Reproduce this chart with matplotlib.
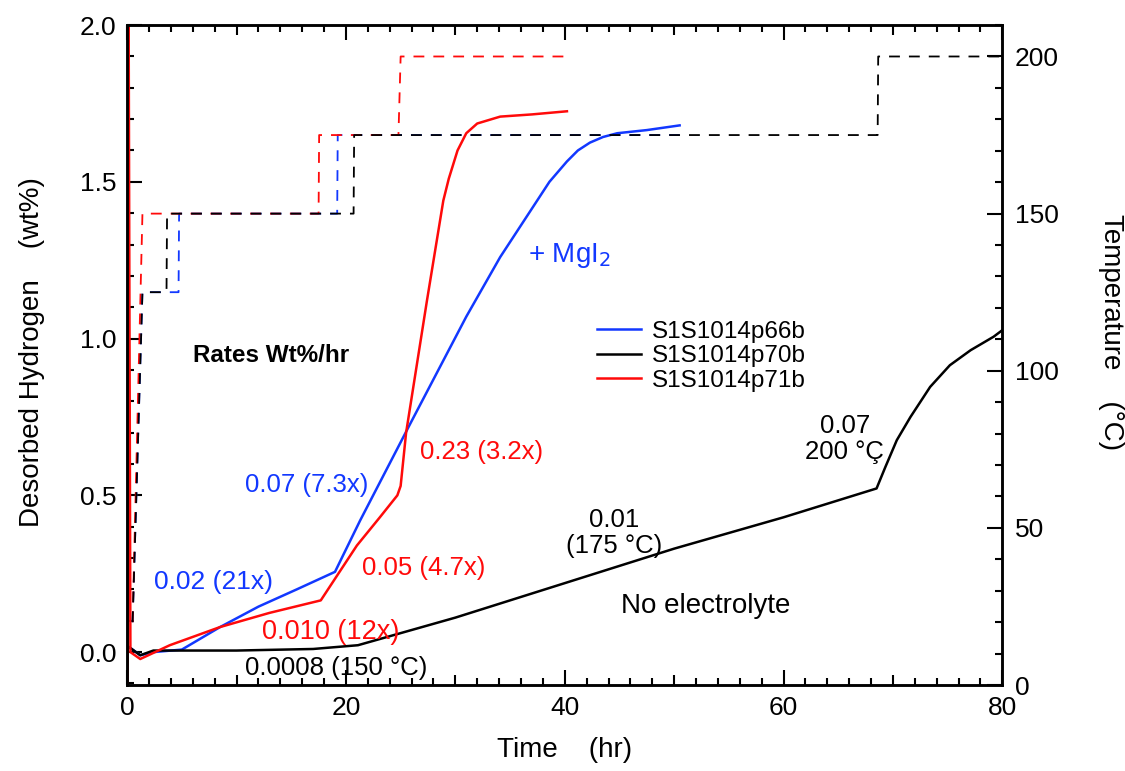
import numpy as np
import matplotlib.pyplot as plt
from matplotlib.ticker import MultipleLocator, FuncFormatter

plt.rcParams['font.family'] = ['Liberation Sans', 'DejaVu Sans']

# desorbed hydrogen (wt%)
t_p66b = [0.0, 0.3, 1.2, 2.4, 5.0, 8.5, 12.0, 15.5, 19.0, 21.3, 25.9, 31.0, 34.1,
          37.1, 38.6, 40.2, 41.2, 42.3, 43.5, 44.8, 47.5, 50.5]
h_p66b = [0.02, 0.013, -0.01, 0.0, 0.008, 0.08, 0.145, 0.2, 0.256, 0.42, 0.73, 1.07,
          1.26, 1.42, 1.50, 1.565, 1.60, 1.625, 1.643, 1.655, 1.665, 1.68]

t_p70b = [0.0, 0.3, 1.2, 2.4, 10.0, 17.0, 21.1, 30.0, 40.0, 50.0, 60.0, 68.5, 69.3,
          70.35, 71.6, 73.4, 75.2, 77.1, 79.2, 80.0]
h_p70b = [0.02, 0.013, -0.01, 0.005, 0.005, 0.01, 0.022, 0.11, 0.22, 0.33, 0.43, 0.522,
          0.59, 0.676, 0.75, 0.846, 0.915, 0.963, 1.006, 1.027]

t_p71b = [0.05, 0.1, 0.3, 1.2, 3.9, 8.5, 13.0, 17.7, 21.0, 23.1, 24.7, 25.0, 25.5,
          27.4, 28.9, 29.4, 30.2, 31.0, 32.0, 34.1, 37.0, 40.2]
h_p71b = [-0.2, 2.5, 0.0, -0.022, 0.022, 0.08, 0.125, 0.165, 0.34, 0.43, 0.50, 0.53,
          0.70, 1.12, 1.44, 1.51, 1.60, 1.655, 1.686, 1.708, 1.715, 1.725]

# temperature programs (°C)
tT_p66b = [0.5, 1.4, 4.7, 4.75, 19.2, 19.25, 50.5]
T_p66b = [20, 125, 125, 150, 150, 175, 175]
tT_p70b = [0.5, 1.4, 3.6, 3.65, 20.7, 20.75, 68.6, 68.65, 80.0]
T_p70b = [20, 125, 125, 150, 150, 175, 175, 200, 200]
tT_p71b = [0.5, 1.4, 17.5, 17.55, 24.8, 25.0, 40.2]
T_p71b = [20, 150, 150, 175, 175, 200, 200]

blue = '#1238ff'
red = '#ff0a0a'

fig = plt.figure(figsize=(11.25, 7.71), dpi=100)
ax = fig.add_axes([0.113, 0.1115, 0.778, 0.856])
ax2 = ax.twinx()

ax.plot(t_p66b, h_p66b, color=blue, lw=1.8, label='S1S1014p66b')
ax.plot(t_p70b, h_p70b, color='black', lw=1.8, label='S1S1014p70b')
ax.plot(t_p71b, h_p71b, color=red, lw=1.8, label='S1S1014p71b')

ax2.plot(tT_p66b, T_p66b, color=blue, lw=1.3, ls=(0, (6, 5)))
ax2.plot(tT_p71b, T_p71b, color=red, lw=1.3, ls=(0, (6, 5)))
ax2.plot(tT_p70b, T_p70b, color='black', lw=1.3, ls=(0, (6, 5)))

ax.set_xlim(0, 80)
ax.set_ylim(-0.105, 2.0)
ax2.set_ylim(0, 210)

ax.xaxis.set_major_locator(MultipleLocator(10))
ax.xaxis.set_minor_locator(MultipleLocator(2))
ax.xaxis.set_major_formatter(FuncFormatter(lambda v, p: '%d' % v if int(round(v)) % 20 == 0 else ''))
ax.yaxis.set_major_locator(MultipleLocator(0.5))
ax.yaxis.set_minor_locator(MultipleLocator(0.1))
ax.yaxis.set_major_formatter(FuncFormatter(lambda v, p: '%.1f' % v))
ax2.yaxis.set_major_locator(MultipleLocator(50))
ax2.yaxis.set_minor_locator(MultipleLocator(10))

ax.tick_params(which='both', direction='in', top=True, right=False, width=1.5, labelsize=19)
ax.tick_params(which='major', length=11, pad=8)
ax.tick_params(which='minor', length=5)
ax2.tick_params(which='both', direction='in', width=1.5, labelsize=19)
ax2.tick_params(which='major', length=11, pad=9)
ax2.tick_params(which='minor', length=5)

# shorter ticks at 10, 30, 50, 70
for tk, v in zip(ax.xaxis.get_major_ticks(), ax.get_xticks()):
    if int(round(v)) % 20 != 0:
        tk.tick1line.set_markersize(7.5)
        tk.tick2line.set_markersize(7.5)

for a in (ax, ax2):
    for s in a.spines.values():
        s.set_linewidth(1.8)

ax.set_xlabel('Time    (hr)', fontsize=20, labelpad=12)
ax.set_ylabel('Desorbed Hydrogen    (wt%)', fontsize=20, va='center')
ax.yaxis.set_label_coords(-0.109, 0.505)
ax2.set_ylabel('Temperature    (°C)', fontsize=20, rotation=270, va='center')
ax2.yaxis.set_label_coords(1.124, 0.535)

ax.text(6.0, 0.947, 'Rates Wt%/hr', fontsize=17.5, fontweight='bold', va='center')
ax.text(36.6, 1.266, '+ MgI$_2$', fontsize=20, color=blue, va='center')
ax.text(10.8, 0.533, '0.07 (7.3x)', fontsize=18.5, color=blue, va='center')
ax.text(2.5, 0.223, '0.02 (21x)', fontsize=19, color=blue, va='center')
ax.text(26.8, 0.638, '0.23 (3.2x)', fontsize=18.5, color=red, va='center')
ax.text(21.5, 0.268, '0.05 (4.7x)', fontsize=18.5, color=red, va='center')
ax.text(12.3, 0.064, '0.010 (12x)', fontsize=19.5, color=red, va='center')
ax.text(10.8, -0.05, '0.0008 (150 °C)', fontsize=18.5, color='black', va='center')
ax.text(44.5, 0.38, '0.01\n(175 °C)', fontsize=18.5, ha='center', va='center', linespacing=1.1)
ax.text(45.1, 0.147, 'No electrolyte', fontsize=20, va='center')
ax.text(65.6, 0.68, '0.07\n200 °Ç', fontsize=18.5, ha='center', va='center', linespacing=1.1)

ax.legend(loc='upper left', bbox_to_anchor=(0.512, 0.585), frameon=False, fontsize=17.5,
          handlelength=1.8, handletextpad=0.45, labelspacing=0.1)

fig.savefig('out.png', dpi=100)
